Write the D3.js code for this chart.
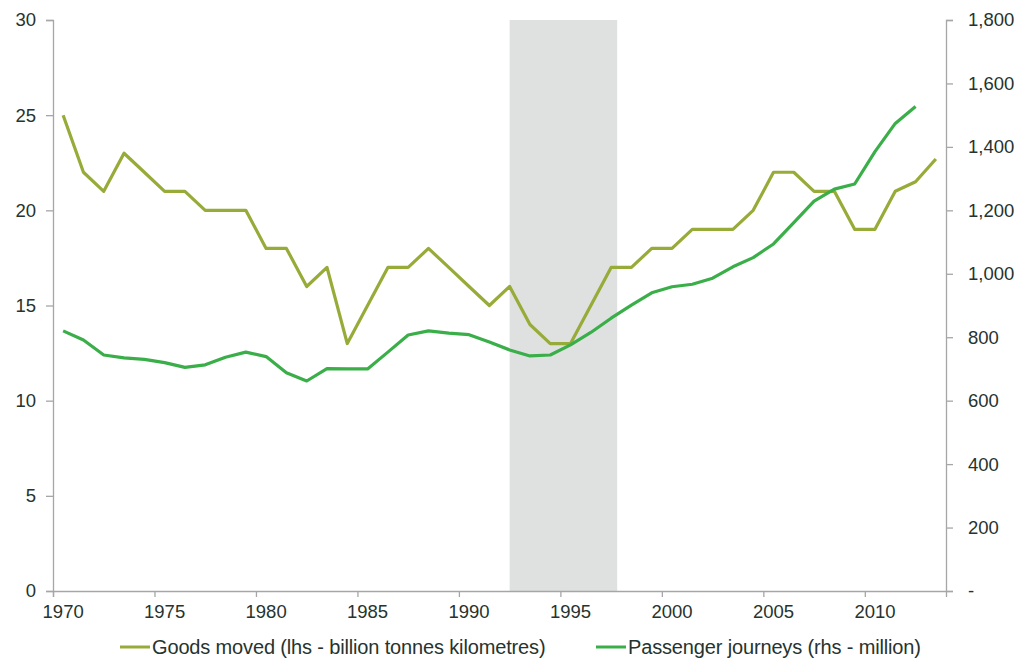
<!DOCTYPE html>
<html>
<head>
<meta charset="utf-8">
<script src="https://cdn.jsdelivr.net/npm/d3@7"></script>
<style>
  body { margin: 0; background: #fff; }
  text { font-family: "Liberation Sans", Arial, sans-serif; fill: #26332e; }
</style>
</head>
<body>
<div id="chart"></div>
<script>
var wd = 1030;
var ht = 661;
var margin = { top: 20, right: 84, bottom: 70, left: 53 };

// data
var years = d3.range(1970, 2014);
var goods = [25, 22, 21, 23, 22, 21, 21, 20, 20, 20,
             18, 18, 16, 17, 13, 15, 17, 17, 18, 17,
             16, 15, 16, 14, 13, 13, 15, 17, 17, 18,
             18, 19, 19, 19, 20, 22, 22, 21, 21, 19,
             19, 21, 21.5, 22.7];
var passengers = [820, 791, 744, 735, 730, 720, 705, 713, 737, 753,
                  739, 688, 662, 701, 700, 700, 753, 807, 820, 813,
                  808, 785, 760, 741, 744, 776, 815, 860, 901, 940,
                  959, 967, 986, 1022, 1051, 1094, 1161, 1229, 1267, 1283,
                  1385, 1474, 1527];
var band = [1992.5, 1997.8];
var xTicks = [1970, 1975, 1980, 1985, 1990, 1995, 2000, 2005, 2010];
var leftTicks = [0, 5, 10, 15, 20, 25, 30];
var rightTicks = [0, 200, 400, 600, 800, 1000, 1200, 1400, 1600, 1800];
var seriesNames = ["Goods moved (lhs - billion tonnes kilometres)", "Passenger journeys (rhs - million)"];
var colors = ["#97ab38", "#3aae48"];

var svg = d3.select("#chart").append("svg").attr("width", wd).attr("height", ht);

var xScale = d3.scaleLinear().domain([1970, 2014]).range([margin.left, wd - margin.right]);
var yLeft = d3.scaleLinear().domain([0, 30]).range([ht - margin.bottom, margin.top]);
var yRight = d3.scaleLinear().domain([0, 1800]).range([ht - margin.bottom, margin.top]);

// shaded period
svg.append("rect")
   .attr("x", xScale(band[0]))
   .attr("y", margin.top)
   .attr("width", xScale(band[1]) - xScale(band[0]))
   .attr("height", yLeft(0) - margin.top)
   .attr("fill", "#dee1e0");

var xAxis = d3.axisBottom(xScale).tickValues(xTicks).tickSize(6).tickFormat("");
var gx = svg.append("g").attr("class", "axis x").attr("transform", "translate(0," + yLeft(0) + ")").call(xAxis);
gx.selectAll("text").remove();
svg.append("g").selectAll("text").data(xTicks).enter().append("text")
   .attr("x", function(d) { return xScale(d + 0.5); })
   .attr("y", yLeft(0) + 27)
   .attr("text-anchor", "middle")
   .style("font-size", "18.5px")
   .text(function(d) { return d; });

var yAxisL = d3.axisLeft(yLeft).tickValues(leftTicks).tickSize(7).tickPadding(10);
var gl = svg.append("g").attr("class", "axis y").attr("transform", "translate(" + margin.left + ",0)").call(yAxisL);

var yAxisR = d3.axisRight(yRight).tickValues(rightTicks).tickSize(7).tickPadding(15)
               .tickFormat(function(d) { return d === 0 ? "-" : d3.format(",")(d); });
var gr = svg.append("g").attr("class", "axis y2").attr("transform", "translate(" + (wd - margin.right) + ",0)").call(yAxisR);

svg.selectAll(".axis path, .axis line").attr("stroke", "#a6a6a6").attr("stroke-width", 1.3);
svg.selectAll(".axis text").style("font-size", "18.5px").style("font-family", "Liberation Sans, Arial, sans-serif").attr("fill", "#26332e");

var lineL = d3.line().x(function(d, i) { return xScale(years[i] + 0.5); }).y(function(d) { return yLeft(d); });
var lineR = d3.line().x(function(d, i) { return xScale(years[i] + 0.5); }).y(function(d) { return yRight(d); });

svg.append("path").datum(goods).attr("d", lineL)
   .attr("fill", "none").attr("stroke", colors[0]).attr("stroke-width", 3.2).attr("stroke-linejoin", "round");
svg.append("path").datum(passengers).attr("d", lineR)
   .attr("fill", "none").attr("stroke", colors[1]).attr("stroke-width", 3.2).attr("stroke-linejoin", "round");

// legend
var legendX = [120, 596];
var legend = svg.append("g").selectAll("g").data(seriesNames).enter().append("g")
                .attr("transform", function(d, i) { return "translate(" + legendX[i] + "," + 647 + ")"; });
legend.append("line").attr("x1", 0).attr("x2", 30).attr("y1", 0).attr("y2", 0)
      .attr("stroke", function(d, i) { return colors[i]; }).attr("stroke-width", 3);
legend.append("text").attr("x", 32).attr("y", 7)
      .style("font-size", "20px").style("letter-spacing", "-0.15px")
      .text(function(d) { return d; });
</script>
</body>
</html>
